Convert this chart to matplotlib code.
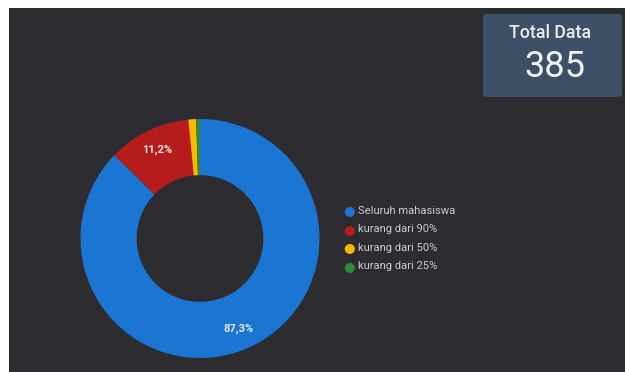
import numpy as np
import matplotlib.pyplot as plt
from matplotlib.patches import FancyBboxPatch, Rectangle

plt.rcParams['font.family'] = ['Roboto', 'DejaVu Sans']

labels = ['Seluruh mahasiswa', 'kurang dari 90%', 'kurang dari 50%', 'kurang dari 25%']
counts = [336, 43, 4, 2]
colors = ['#1a76d2', '#b71c1c', '#fdb900', '#2e8b36']
total = sum(counts)

W, H = 625, 372
bg = '#2d2c31'

fig = plt.figure(figsize=(W / 100, H / 100), dpi=100)
fig.patch.set_facecolor('white')

# dark panel behind everything
fig.patches.append(Rectangle((9 / W, 0), 1 - 9 / W, 1 - 8 / H,
                             transform=fig.transFigure, facecolor=bg,
                             edgecolor='none', zorder=-5))

# donut
cx, cy, r = 200, H - 238.5, 119.5
ax = fig.add_axes([(cx - r) / W, (cy - r) / H, 2 * r / W, 2 * r / H])
ax.set_zorder(2)
ax.set_facecolor('none')
ring = 0.47
wedges, _ = ax.pie(counts, colors=colors, startangle=90, counterclock=False,
                   radius=1, wedgeprops=dict(width=ring, linewidth=0))
ax.set_xlim(-1, 1)
ax.set_ylim(-1, 1)
ax.set_aspect('equal')
ax.axis('off')

for w, c in zip(wedges, counts):
    pct = c / total * 100
    if pct < 5:
        continue
    ang = np.deg2rad((w.theta1 + w.theta2) / 2)
    rr = 0.82
    ax.text(rr * np.cos(ang), rr * np.sin(ang), f'{pct:.1f}%'.replace('.', ','),
            ha='center', va='center', color='#e6e6e6', fontsize=8, weight='bold')

# legend
for i, (lab, col) in enumerate(zip(labels, colors)):
    y = H - (211 + i * 18.4)
    fig.text(349 / W, y / H, '\u25cf', color=col, fontsize=9.5,
             ha='center', va='center', family=['DejaVu Sans'])
    fig.text(358.5 / W, y / H, lab, color='#cccccc', fontsize=8.1,
             ha='left', va='center')

# total box
bx0, by0, bx1, by1 = 483, H - 97, 622, H - 14
fig.patches.append(FancyBboxPatch((bx0 / W, by0 / H), (bx1 - bx0) / W, (by1 - by0) / H,
                                  boxstyle='round,pad=0,rounding_size=0.006',
                                  transform=fig.transFigure, facecolor='#3d5068',
                                  edgecolor='none', zorder=1))
fig.text(550 / W, (H - 33) / H, 'Total Data', color='#ececec', fontsize=12.8,
         ha='center', va='center', weight='medium')
fig.text(555 / W, (H - 67) / H, str(total), color='#f2f2f2', fontsize=26,
         ha='center', va='center')

fig.savefig('out.png', dpi=100, facecolor=fig.get_facecolor())
